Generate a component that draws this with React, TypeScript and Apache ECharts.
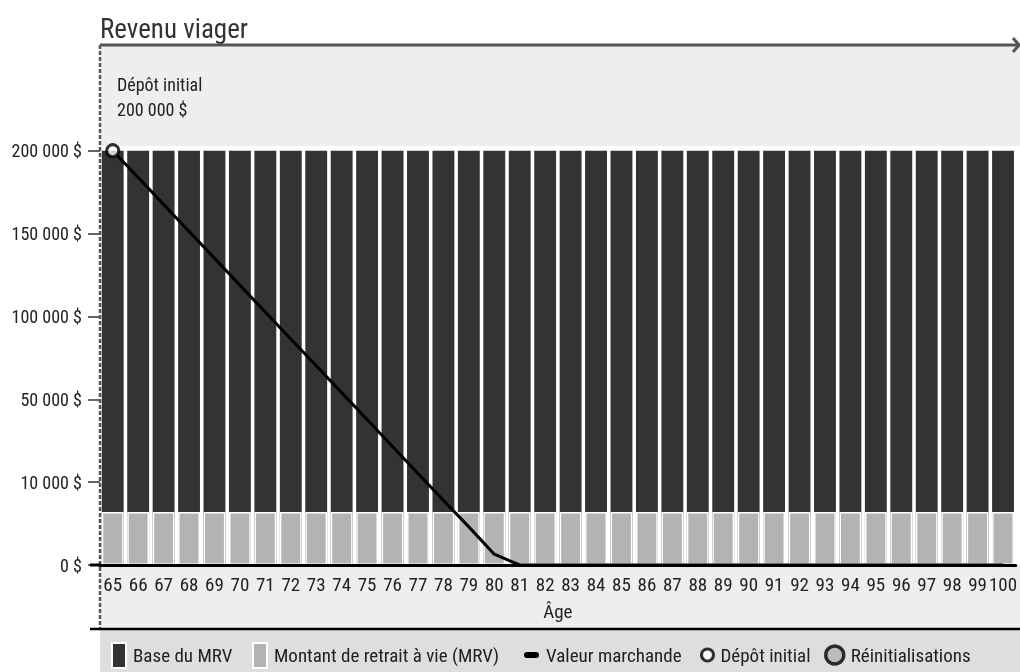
import React, { useEffect, useRef } from "react";
import * as echarts from "echarts";

const ages = ["65","66","67","68","69","70","71","72","73","74","75","76","77","78","79","80","81","82","83","84","85","86","87","88","89","90","91","92","93","94","95","96","97","98","99","100"];

// Base du MRV ($)
const baseMRV = [200000,200000,200000,200000,200000,200000,200000,200000,200000,200000,200000,200000,200000,200000,200000,200000,200000,200000,200000,200000,200000,200000,200000,200000,200000,200000,200000,200000,200000,200000,200000,200000,200000,200000,200000,200000];

// Montant de retrait à vie ($)
const mrv = [6400,6400,6400,6400,6400,6400,6400,6400,6400,6400,6400,6400,6400,6400,6400,6400,6400,6400,6400,6400,6400,6400,6400,6400,6400,6400,6400,6400,6400,6400,6400,6400,6400,6400,6400,6400];

// Valeur marchande ($)
const marketValue = [200000,183800,167600,151300,135100,118900,102600,86400,70200,54000,40200,27200,14200,7800,4600,1300,0,0,0,0,0,0,0,0,0,0,0,0,0,0,0,0,0,0,0,0];

// Dépôt initial
const initialDeposit = [{ age: "65", value: 200000 }];

// Y-axis tick values (evenly spaced on the chart)
const yTicks = [0, 10000, 50000, 100000, 150000, 200000];
const yTickLabels = ["0 $", "10 000 $", "50 000 $", "100 000 $", "150 000 $", "200 000 $"];

const FONT = "'Roboto Condensed', 'Liberation Sans Narrow', 'DejaVu Sans Condensed', 'Liberation Sans', sans-serif";

function toScale(v: number): number {
  for (let i = 1; i < yTicks.length; i++) {
    if (v <= yTicks[i]) {
      return i - 1 + (v - yTicks[i - 1]) / (yTicks[i] - yTicks[i - 1]);
    }
  }
  return yTicks.length - 1;
}

export default function App() {
  const ref = useRef<HTMLDivElement>(null);
  useEffect(() => {
    if (!ref.current) return;
    const chart = echarts.init(ref.current, null, { renderer: "svg" });
    const textBase = { fontFamily: FONT, fontSize: 18, color: "#222" };
    const legendCommon = {
      selectedMode: false,
      orient: "horizontal",
      itemGap: 0,
      padding: 0,
      top: 642,
      textStyle: { fontFamily: FONT, fontSize: 19, color: "#222", lineHeight: 26, padding: [0, 0, 0, 2] },
    };
    chart.setOption({
      animation: false,
      title: {
        text: "Revenu viager",
        left: 95,
        top: 10,
        textStyle: { fontFamily: FONT, fontSize: 27, fontWeight: "normal", color: "#333" },
      },
      grid: { left: 100, right: -3, top: 150.7, bottom: 107, containLabel: false },
      xAxis: {
        type: "category",
        data: ages,
        boundaryGap: true,
        axisLine: { show: true, lineStyle: { color: "#000", width: 3 } },
        axisTick: { show: false },
        axisLabel: { ...textBase, fontSize: 19, interval: 0, margin: 10 },
        name: "Âge",
        nameLocation: "middle",
        nameGap: 37,
        nameTextStyle: { ...textBase, fontSize: 19 },
        z: 5,
      },
      yAxis: {
        type: "value",
        min: 0,
        max: 5,
        interval: 1,
        axisLine: { show: false },
        axisTick: { show: true, length: 12, lineStyle: { color: "#333", width: 1.5 } },
        splitLine: { show: false },
        axisLabel: {
          ...textBase,
          margin: 18,
          formatter: (v: number) => yTickLabels[Math.round(v)] ?? "",
        },
      },
      legend: [
        { ...legendCommon, data: [{ name: "Base du MRV", icon: "rect", itemStyle: { color: "#333", borderColor: "#fff", borderWidth: 2 } }], left: 111, itemWidth: 14, itemHeight: 25 },
        { ...legendCommon, data: [{ name: "Montant de retrait à vie (MRV)", icon: "rect", itemStyle: { color: "#b3b3b3", borderColor: "#fff", borderWidth: 2 } }], left: 252, itemWidth: 14, itemHeight: 25 },
        { ...legendCommon, data: [{ name: "Valeur marchande", icon: "path://M3,0 L12,0 A3,3 0 0 1 12,6 L3,6 A3,3 0 0 1 3,0 Z", itemStyle: { color: "#000" } }], left: 524, itemWidth: 15, itemHeight: 6 },
        { ...legendCommon, data: [{ name: "Dépôt initial", icon: "circle", itemStyle: { color: "#fff", borderColor: "#000", borderWidth: 3 } }], left: 700, itemWidth: 12, itemHeight: 12 },
        { ...legendCommon, data: [{ name: "Réinitialisations", icon: "circle", itemStyle: { color: "#b3b3b3", borderColor: "#000", borderWidth: 3.5 } }], left: 824, itemWidth: 18, itemHeight: 18 },
      ],
      graphic: [
        { type: "rect", z: -10, silent: true, shape: { x: 100, y: 45, width: 920, height: 584 }, style: { fill: "#eeeeee" } },
        { type: "rect", z: -10, silent: true, shape: { x: 100, y: 629, width: 920, height: 43 }, style: { fill: "#dedede" } },
        { type: "rect", z: -5, silent: true, shape: { x: 100, y: 146, width: 920, height: 419 }, style: { fill: "#ffffff" } },
        { type: "line", z: 50, silent: true, shape: { x1: 100, y1: 45, x2: 100, y2: 629 }, style: { stroke: "#555", lineWidth: 2.5, lineDash: [4, 2] } },
        { type: "line", z: 50, silent: true, shape: { x1: 100, y1: 45, x2: 1018, y2: 45 }, style: { stroke: "#555", lineWidth: 3 } },
        { type: "polyline", z: 50, silent: true, shape: { points: [[1013, 38], [1019, 45], [1013, 52]] }, style: { stroke: "#555", lineWidth: 3, fill: null } },
        { type: "line", z: 50, silent: true, shape: { x1: 90, y1: 629, x2: 1020, y2: 629 }, style: { stroke: "#000", lineWidth: 2.5 } },
        { type: "line", z: 50, silent: true, shape: { x1: 90, y1: 565, x2: 101, y2: 565 }, style: { stroke: "#000", lineWidth: 3 } },
        { type: "text", z: 50, silent: true, x: 117, y: 72, style: { text: "Dépôt initial\n200 000 $", fontFamily: FONT, fontSize: 18, lineHeight: 25, fill: "#222" } },
      ],
      series: [
        {
          name: "Base du MRV",
          type: "bar",
          data: baseMRV.map(toScale),
          barGap: "-100%",
          barCategoryGap: "14%",
          itemStyle: { color: "#333333" },
          z: 2,
        },
        {
          name: "Montant de retrait à vie (MRV)",
          type: "bar",
          data: mrv.map(toScale),
          barGap: "-100%",
          barCategoryGap: "14%",
          itemStyle: { color: "#b3b3b3", borderColor: "#ffffff", borderWidth: 1.5 },
          z: 3,
        },
        {
          name: "Valeur marchande",
          type: "line",
          data: marketValue.map(toScale),
          symbol: "none",
          lineStyle: { color: "#000", width: 3 },
          itemStyle: { color: "#000" },
          z: 6,
        },
        {
          name: "Dépôt initial",
          type: "scatter",
          data: initialDeposit.map((d) => [d.age, toScale(d.value)]),
          symbol: "circle",
          symbolSize: 12,
          itemStyle: { color: "#fff", borderColor: "#000", borderWidth: 3 },
          z: 7,
        },
        {
          name: "Réinitialisations",
          type: "scatter",
          data: [],
          symbol: "circle",
          symbolSize: 16,
          itemStyle: { color: "#b3b3b3", borderColor: "#000", borderWidth: 3.5 },
          z: 7,
        },
      ],
    });
    return () => chart.dispose();
  }, []);
  return (
    <div
      ref={ref}
      style={{ position: "fixed", left: 0, top: 0, width: 1020, height: 672 }}
    />
  );
}
